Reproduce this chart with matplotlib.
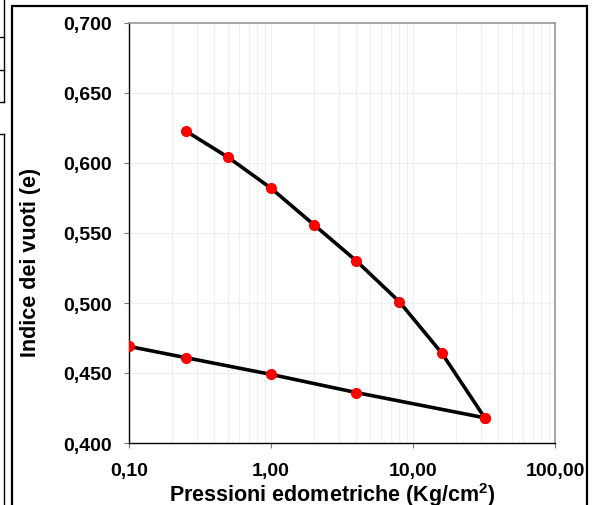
import numpy as np
import matplotlib
matplotlib.use("Agg")
import matplotlib.pyplot as plt
from matplotlib.ticker import FuncFormatter, LogLocator, MultipleLocator
from matplotlib.patches import Rectangle
from matplotlib.lines import Line2D

plt.rcParams['font.family'] = ['Liberation Sans', 'DejaVu Sans']
plt.rcParams['mathtext.fontset'] = 'custom'
plt.rcParams['mathtext.rm'] = 'Liberation Sans:bold'
plt.rcParams['mathtext.bf'] = 'Liberation Sans:bold'

# Curva di carico
p_carico = [0.25, 0.5, 1, 2, 4, 8, 16, 32]
e_carico = [0.623, 0.604, 0.582, 0.556, 0.530, 0.501, 0.464, 0.418]
# Curva di scarico
p_scarico = [32, 4, 1, 0.25, 0.1]
e_scarico = [0.418, 0.436, 0.449, 0.461, 0.469]

W, H = 593, 506
fig = plt.figure(figsize=(W / 100, H / 100), dpi=100)

# cornici esterne (come nel foglio Excel)
fig.add_artist(Rectangle((12 / W, -0.05), 575 / W, (H - 7) / H + 0.05,
                         transform=fig.transFigure, fill=False, lw=1.6, ec='black'))
for y0 in [38, 71, 103]:
    fig.add_artist(Line2D([0, 3.5 / W], [1 - y0 / H, 1 - y0 / H], transform=fig.transFigure,
                          color='black', lw=1))
fig.add_artist(Line2D([3.5 / W, 3.5 / W], [1, 1 - 103 / H], transform=fig.transFigure, color='black', lw=1))
fig.add_artist(Line2D([0, 3.5 / W], [1 - 135 / H, 1 - 135 / H], transform=fig.transFigure, color='black', lw=1))
fig.add_artist(Line2D([3.5 / W, 3.5 / W], [1 - 135 / H, 0], transform=fig.transFigure, color='black', lw=1))

ax = fig.add_axes([129 / W, (H - 444) / H, (555 - 129) / W, (444 - 24) / H])

ax.plot(p_carico, e_carico, color='black', lw=2.6, zorder=3)
ax.plot(p_scarico, e_scarico, color='black', lw=2.6, zorder=3)
ax.plot(p_carico, e_carico, 'o', color='red', ms=7, zorder=4)
ax.plot(p_scarico, e_scarico, 'o', color='red', ms=7, zorder=4)

ax.set_xscale('log')
ax.set_xlim(0.1, 100)
ax.set_ylim(0.4, 0.7)
ax.xaxis.set_major_locator(LogLocator(base=10))
ax.xaxis.set_minor_locator(LogLocator(base=10, subs=np.arange(2, 10)))
ax.yaxis.set_major_locator(MultipleLocator(0.05))

ax.xaxis.set_major_formatter(FuncFormatter(lambda v, _: f"{v:.2f}".replace('.', ',')))
ax.xaxis.set_minor_formatter(FuncFormatter(lambda v, _: ''))
ax.yaxis.set_major_formatter(FuncFormatter(lambda v, _: f"{v:.3f}".replace('.', ',')))

ax.grid(True, which='both', axis='x', color='#efefef', lw=0.8)
ax.grid(True, which='major', axis='y', color='#efefef', lw=0.8)
ax.set_axisbelow(True)

for s in ['top', 'right']:
    ax.spines[s].set_color('#999999')
    ax.spines[s].set_linewidth(1.2)
for s in ['left', 'bottom']:
    ax.spines[s].set_color('black')
    ax.spines[s].set_linewidth(1.0)

ax.tick_params(axis='both', which='major', direction='out', length=3.5, color='#777777',
               labelsize=14)
ax.tick_params(axis='y', which='major', pad=9)
ax.tick_params(axis='x', which='major', pad=10.5)
ax.tick_params(axis='x', which='minor', length=0)
for lab in ax.get_xticklabels() + ax.get_yticklabels():
    lab.set_fontweight('bold')

ax.set_xlabel('Pressioni edometriche (Kg/cm$^{2}$)', fontsize=15.5, fontweight='bold')
ax.set_ylabel('Indice dei vuoti (e)', fontsize=15.5, fontweight='bold')
ax.xaxis.set_label_coords(0.477, -0.088)
ax.yaxis.set_label_coords(-0.207, 0.433)

fig.savefig('out.png', dpi=100)
